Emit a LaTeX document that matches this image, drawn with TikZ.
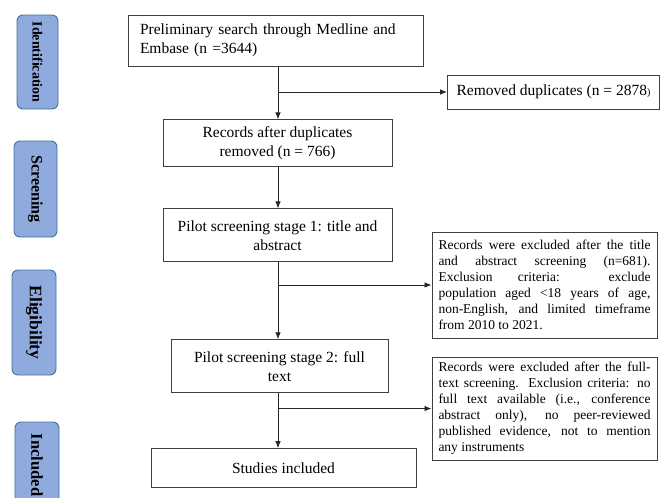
\documentclass[tikz,border=0pt]{standalone}
\usepackage{fontspec}
\setmainfont{Liberation Serif}
\usetikzlibrary{positioning, arrows.meta}

\definecolor{phasefill}{HTML}{8FAADC}
\definecolor{phaseedge}{HTML}{41719C}
\definecolor{boxedge}{HTML}{404040}

\begin{document}
\begin{tikzpicture}[x=1pt, y=-1pt, node distance=20pt]
    % Node Styles
    \tikzstyle{block} = [rectangle, draw=boxedge, line width=0.9pt, inner xsep=4pt, inner ysep=0pt, align=center, font=\fontsize{15.5}{19}\selectfont]
    \tikzstyle{note} = [rectangle, draw=boxedge, line width=0.9pt, inner xsep=6.5pt, inner ysep=3pt, text width=212pt, align=justify, font=\fontsize{13.5}{16}\selectfont]
    \tikzstyle{phase} = [rectangle, rounded corners=6pt, draw=phaseedge, line width=0.9pt, fill=phasefill, rotate=-90, inner sep=1pt]
    \tikzstyle{conn} = [draw, -{Latex[length=7pt,width=5.5pt]}, line width=0.8pt, black!85]

    \useasboundingbox (0,0) rectangle (662,498);

    % Phases
    \node [phase, minimum width=94pt, minimum height=41pt, font=\bfseries\fontsize{14}{16}\selectfont] (identph) at (37.5,62) {Identification};
    \node [phase, minimum width=96pt, minimum height=43pt, font=\bfseries\fontsize{16}{18}\selectfont] (screenph) at (35.5,189) {Screening};
    \node [phase, minimum width=105pt, minimum height=44pt, font=\bfseries\fontsize{17.5}{19}\selectfont] (eligph) at (34,322.5) {Eligibility};
    \begin{scope}
        \clip (0,0) rectangle (662,498);
        \node [phase, minimum width=86pt, minimum height=44pt, font=\bfseries\fontsize{16.5}{19}\selectfont] (inclph) at (37,465) {Included};
    \end{scope}

    % Main flow
    \node [block, minimum width=295pt, minimum height=51pt, align=left, text width=271pt] (search) at (275.5,40.5) {Preliminary search through Medline and\\ Embase (n =3644)};
    \node [block, below=53pt of search, xshift=2pt, minimum width=229pt, minimum height=47pt] (records) {Records after duplicates\\ removed (n = 766)};
    \node [block, below=41pt of records, minimum width=229pt, minimum height=53pt] (stage1) {Pilot screening stage 1: title and\\ abstract};
    \node [block, below=77pt of stage1, xshift=2pt, minimum width=217pt, minimum height=53pt] (stage2) {Pilot screening stage 2: full\\ text};
    \node [block, below=55pt of stage2, xshift=4pt, minimum width=265pt, minimum height=39pt] (included) {Studies included};

    % Exclusions
    \node [block, minimum width=212pt, minimum height=34pt] (dups) at (553.5,92) {Removed duplicates (n = 2878{\fontsize{10}{10}\selectfont)}};
    \node [note, minimum height=106pt] (excl1) at (544.5,285) {Records were excluded after the title\linebreak and abstract screening (n=681).\linebreak Exclusion criteria: exclude\linebreak population aged <18 years of age,\linebreak non-English, and limited timeframe\linebreak from 2010 to 2021.};
    \node [note, minimum height=103pt] (excl2) at (544.5,408.5) {Records were excluded after the full-\linebreak text screening. Exclusion criteria: no\linebreak full text available (i.e., conference\linebreak abstract only), no peer-reviewed\linebreak published evidence, not to mention\linebreak any instruments};

    % Paths
    \coordinate (spine) at (278,0);
    \draw [conn] (search.south -| spine) -- (records.north -| spine);
    \draw [conn] (records.south -| spine) -- (stage1.north -| spine);
    \draw [conn] (stage1.south -| spine) -- (stage2.north -| spine);
    \draw [conn] (stage2.south -| spine) -- (included.north -| spine);
    \draw [conn] (spine |- dups.west) -- (dups.west);
    \draw [conn] (spine |- excl1.west) -- (excl1.west);
    \draw [conn] (spine |- excl2.west) -- (excl2.west);
\end{tikzpicture}
\end{document}
